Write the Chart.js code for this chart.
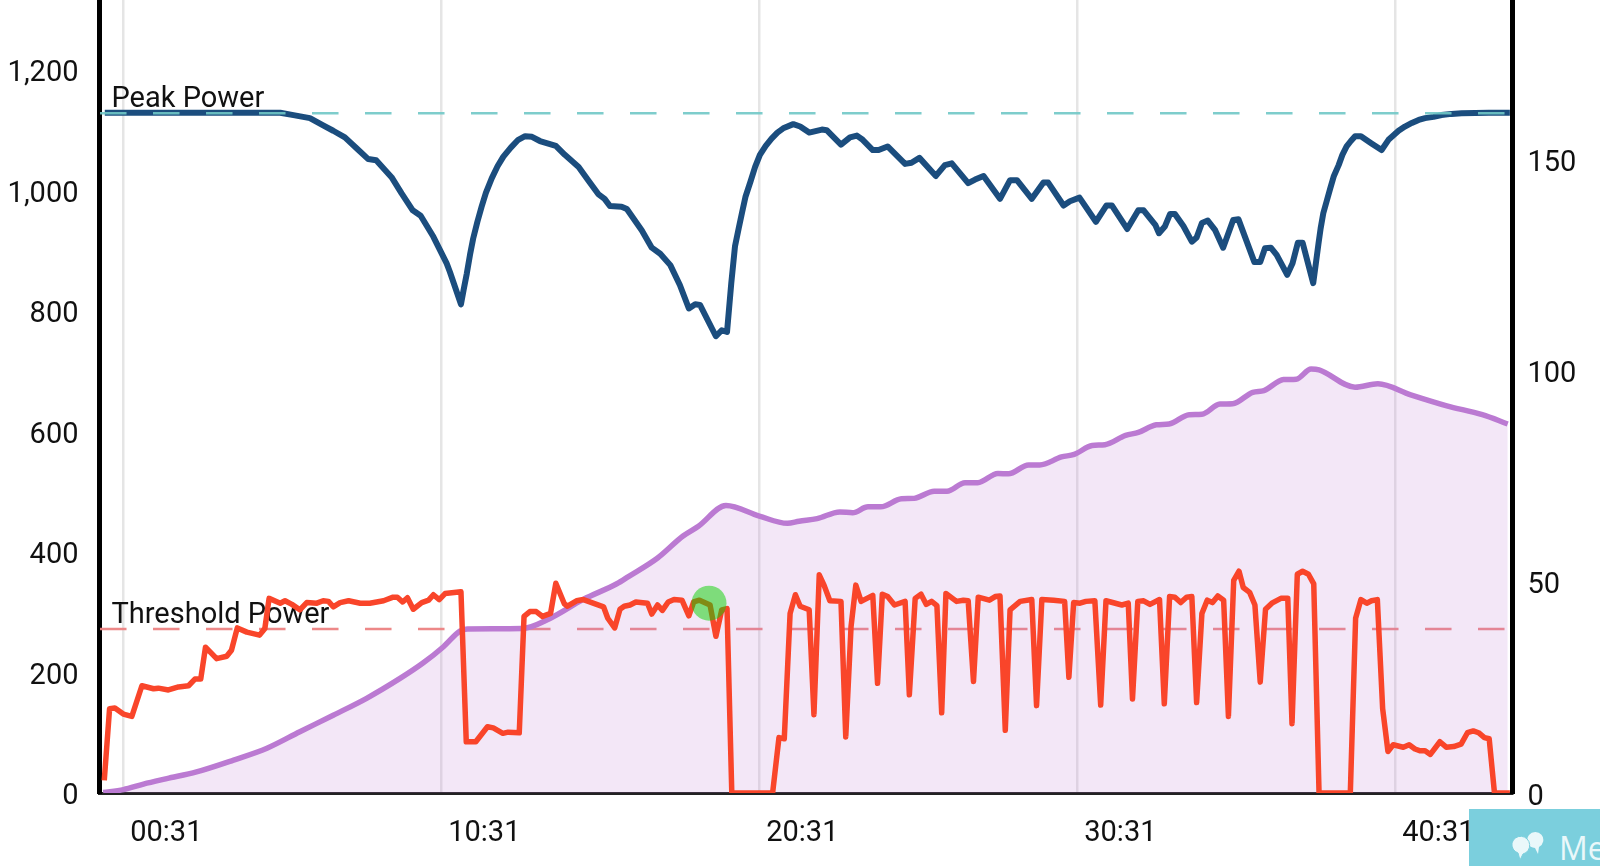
<!DOCTYPE html>
<html>
<head>
<meta charset="utf-8">
<title>Power chart</title>
<script src="https://cdn.jsdelivr.net/npm/chart.js@4"></script>
<style>
    html, body { margin: 0; padding: 0; background: #fff; overflow: hidden; }
    #wrap { position: relative; width: 1600px; height: 866px; }
    #messages {
        position: absolute; left: 1469px; top: 809px; width: 131px; height: 57px;
        background: #7bcfdd; overflow: hidden; color: #eaf8fa;
        font: 32px "Open Sans", sans-serif;
    }
    #messages span { position: absolute; left: 90px; top: 17px; }
    #messages svg { position: absolute; left: 40px; top: 22px; }
</style>
</head>
<body>
<div id="wrap">
    <canvas id="powerChart" width="1600" height="866"></canvas>
    <div id="messages">
        <svg width="36" height="30" viewBox="0 0 36 30">
            <path d="M20 4a8 8 0 1 1 10 12l-1 7-3-6a8 8 0 0 1-6-13z" fill="#eaf8fa"/>
            <path d="M3 12a9 9 0 1 1 11 11l-3 6-2-7a9 9 0 0 1-6-10z" fill="#eaf8fa" stroke="#7bcfdd"/>
        </svg>
        <span>Me</span>
    </div>
</div>
<script>
// tick labels
const leftTicks = [0, 200, 400, 600, 800, 1000, 1200];
const rightTicks = [0, 50, 100, 150];
const timeTicks = [31, 631, 1231, 1831, 2431];
const timeLabels = ["00:31", "10:31", "20:31", "30:31", "40:31"];

// reference lines
const peakPower = 1128;
const thresholdPower = 272;
const lineTimes = [-13, 2652];
const markerTime = [1136];
const markerValue = [315];

// blue curve, seconds and watts
const peakTimes = [-4, 327, 352, 383, 408, 427, 449, 471, 493, 508, 537, 556, 577, 592, 616, 641, 647, 668, 673, 679, 685, 691, 699, 707, 715, 726, 737, 748, 762, 776, 789, 802, 817, 847, 864, 890, 908, 927, 939, 949, 971, 981, 1009, 1028, 1044, 1063, 1081, 1098, 1110, 1119, 1149, 1160, 1170, 1178, 1185, 1192, 1198, 1205, 1214, 1223, 1232, 1243, 1254, 1265, 1276, 1295, 1308, 1325, 1349, 1358, 1385, 1402, 1415, 1426, 1445, 1456, 1473, 1506, 1518, 1533, 1564, 1581, 1594, 1625, 1638, 1654, 1685, 1704, 1717, 1745, 1767, 1776, 1805, 1817, 1835, 1866, 1886, 1896, 1925, 1946, 1956, 1978, 1985, 1996, 2006, 2015, 2031, 2047, 2056, 2066, 2077, 2091, 2106, 2125, 2135, 2165, 2176, 2185, 2196, 2207, 2227, 2237, 2247, 2256, 2276, 2281, 2286, 2290, 2295, 2302, 2308, 2315, 2324, 2331, 2339, 2347, 2355, 2366, 2386, 2405, 2418, 2427, 2437, 2449, 2462, 2475, 2487, 2503, 2518, 2537, 2556, 2607, 2647];
const peakValues = [1129, 1129, 1125, 1120, 1108, 1099, 1088, 1070, 1052, 1050, 1022, 995, 967, 958, 923, 879, 865, 811, 835, 862, 893, 920, 948, 973, 996, 1020, 1040, 1056, 1071, 1084, 1090, 1089, 1082, 1074, 1059, 1039, 1017, 994, 986, 974, 973, 969, 934, 905, 895, 876, 843, 804, 811, 810, 758, 768, 765, 846, 907, 937, 962, 990, 1014, 1039, 1059, 1074, 1086, 1096, 1103, 1110, 1106, 1096, 1101, 1100, 1076, 1088, 1091, 1084, 1067, 1067, 1073, 1044, 1046, 1054, 1024, 1042, 1045, 1012, 1018, 1024, 986, 1017, 1017, 986, 1013, 1013, 975, 982, 988, 948, 975, 975, 936, 967, 967, 943, 929, 940, 961, 961, 941, 915, 922, 946, 950, 934, 905, 951, 952, 881, 881, 904, 905, 893, 860, 879, 913, 913, 846, 879, 912, 937, 962, 984, 1003, 1024, 1042, 1059, 1073, 1082, 1090, 1090, 1078, 1067, 1084, 1091, 1099, 1106, 1112, 1117, 1120, 1122, 1125, 1127, 1128, 1129, 1129];

// red curve, seconds and watts
const powerTimes = [-5, 5, 15, 31, 47, 66, 88, 97, 116, 135, 154, 166, 177, 186, 207, 226, 235, 246, 264, 288, 298, 306, 327, 336, 349, 364, 377, 396, 408, 418, 427, 440, 456, 478, 496, 522, 540, 548, 558, 567, 578, 594, 607, 616, 627, 638, 668, 678, 696, 718, 729, 747, 757, 778, 787, 798, 810, 822, 837, 847, 863, 869, 886, 899, 937, 945, 958, 968, 976, 987, 998, 1020, 1028, 1039, 1048, 1059, 1070, 1085, 1098, 1107, 1118, 1138, 1149, 1160, 1170, 1179, 1256, 1268, 1278, 1289, 1299, 1308, 1325, 1334, 1344, 1353, 1364, 1385, 1394, 1404, 1413, 1423, 1445, 1454, 1463, 1473, 1486, 1506, 1514, 1525, 1536, 1546, 1556, 1566, 1575, 1583, 1603, 1616, 1625, 1635, 1644, 1665, 1676, 1685, 1695, 1704, 1723, 1745, 1754, 1764, 1786, 1807, 1815, 1824, 1836, 1847, 1864, 1875, 1885, 1915, 1927, 1935, 1945, 1956, 1968, 1986, 1995, 2005, 2015, 2026, 2037, 2047, 2056, 2066, 2076, 2086, 2096, 2107, 2116, 2126, 2136, 2144, 2156, 2166, 2176, 2186, 2198, 2215, 2228, 2236, 2246, 2256, 2267, 2277, 2287, 2346, 2356, 2366, 2377, 2386, 2397, 2407, 2417, 2427, 2446, 2457, 2468, 2478, 2487, 2497, 2515, 2527, 2541, 2555, 2567, 2578, 2588, 2599, 2608, 2618, 2647];
const powerValues = [21, 140, 141, 131, 127, 178, 173, 174, 171, 176, 178, 189, 189, 242, 223, 227, 237, 274, 267, 262, 273, 323, 315, 319, 313, 304, 316, 315, 319, 318, 309, 316, 319, 315, 315, 319, 325, 325, 317, 324, 305, 316, 320, 329, 321, 331, 334, 85, 85, 110, 108, 99, 101, 100, 293, 301, 301, 293, 298, 348, 314, 310, 319, 321, 309, 290, 274, 305, 310, 312, 317, 315, 297, 312, 303, 317, 321, 320, 294, 317, 320, 312, 260, 304, 306, 0, 0, 92, 90, 298, 329, 310, 304, 130, 362, 345, 319, 318, 93, 276, 345, 318, 328, 182, 330, 326, 312, 318, 163, 323, 330, 313, 318, 311, 133, 331, 318, 320, 319, 185, 325, 320, 326, 327, 104, 304, 318, 321, 145, 321, 320, 318, 192, 316, 315, 318, 319, 146, 319, 312, 315, 156, 318, 319, 313, 321, 148, 326, 325, 316, 325, 326, 150, 298, 320, 316, 327, 320, 127, 353, 368, 341, 333, 312, 184, 305, 315, 323, 323, 115, 363, 368, 363, 347, 0, 0, 290, 321, 315, 319, 321, 140, 69, 80, 76, 80, 73, 70, 70, 64, 85, 76, 77, 81, 100, 103, 100, 92, 90, 0, 0];

// purple area, read on the right axis
const loadTimes = [-7, 31, 69, 113, 169, 239, 302, 364, 427, 490, 553, 597, 635, 666, 680, 783, 836, 899, 962, 984, 1039, 1087, 1116, 1168, 1231, 1284, 1306, 1340, 1383, 1407, 1436, 1460, 1499, 1523, 1561, 1585, 1619, 1643, 1681, 1701, 1739, 1760, 1801, 1825, 1859, 1883, 1922, 1946, 1980, 2004, 2042, 2066, 2100, 2124, 2162, 2183, 2220, 2244, 2272, 2287, 2355, 2398, 2460, 2528, 2595, 2643];
const loadValues = [0.1, 0.8, 2.1, 3.4, 5.0, 7.8, 10.6, 14.5, 18.4, 22.4, 27.1, 30.8, 34.6, 38.3, 38.8, 38.9, 41.3, 45.8, 49.5, 51.2, 55.6, 60.8, 63.1, 68, 65.5, 63.8, 64.3, 64.9, 66.5, 66.3, 67.7, 67.7, 69.6, 69.7, 71.4, 71.4, 73.4, 73.4, 75.6, 75.5, 77.6, 77.6, 79.5, 80.1, 82.2, 82.4, 84.6, 85.3, 87.1, 87.3, 89.5, 89.6, 92, 92.1, 94.8, 95.2, 97.8, 97.9, 100.3, 100.1, 96, 96.8, 94.2, 91.6, 89.5, 87.3];

function points(times, values) {
    return times.map((t, i) => ({ x: t, y: values[i] }));
}

const tickFont = { family: "Roboto", size: 29 };

// the plot runs to the canvas top, so no room is kept for the tick labels
function fixScale(s, size) {
    s.paddingTop = 0;
    s.paddingBottom = 0;
    s.paddingLeft = 0;
    s.paddingRight = 0;
    if (s.isHorizontal()) s.height = size;
    else s.width = size;
}

// names of the two reference lines, under the curves
const lineLabels = {
    id: "lineLabels",
    beforeDatasetsDraw(chart) {
        const c = chart.ctx;
        const y = chart.scales.y;
        c.save();
        c.font = "29px Roboto";
        c.fillStyle = "#111";
        c.fillText("Peak Power", chart.chartArea.left + 12, y.getPixelForValue(peakPower) - 6);
        c.fillText("Threshold Power", chart.chartArea.left + 12, y.getPixelForValue(thresholdPower) - 6);
        c.restore();
    },
};

new Chart(document.getElementById("powerChart").getContext("2d"), {
    type: "line",
    plugins: [lineLabels],
    data: {
        datasets: [
            {
                label: "Marker",
                data: points(markerTime, markerValue),
                yAxisID: "y",
                showLine: false,
                pointRadius: 17.5,
                pointBorderWidth: 0,
                pointBackgroundColor: "rgba(10, 210, 0, 0.5)",
                order: 0,
            },
            {
                label: "Peak Power",
                data: points(lineTimes, [peakPower, peakPower]),
                yAxisID: "y",
                borderColor: "rgba(112, 200, 198, 0.9)",
                borderWidth: 2.5,
                borderDash: [26.5, 26.5],
                pointRadius: 0,
                order: 1,
            },
            {
                label: "W'",
                data: points(peakTimes, peakValues),
                yAxisID: "y",
                borderColor: "#1b4d7e",
                borderWidth: 6,
                borderJoinStyle: "round",
                pointRadius: 0,
                order: 2,
            },
            {
                label: "Power",
                data: points(powerTimes, powerValues),
                yAxisID: "y",
                borderColor: "#f9452a",
                borderWidth: 5.5,
                borderJoinStyle: "round",
                pointRadius: 0,
                order: 3,
            },
            {
                label: "Training load",
                data: points(loadTimes, loadValues),
                yAxisID: "y2",
                borderColor: "#bb7ad2",
                backgroundColor: "rgba(187, 122, 210, 0.18)",
                borderWidth: 5.5,
                borderJoinStyle: "round",
                cubicInterpolationMode: "monotone",
                fill: "origin",
                pointRadius: 0,
                order: 4,
            },
            {
                label: "Threshold Power",
                data: points(lineTimes, [thresholdPower, thresholdPower]),
                yAxisID: "y",
                borderColor: "rgba(236, 130, 130, 0.95)",
                borderWidth: 2.5,
                borderDash: [26.5, 26.5],
                pointRadius: 0,
                order: 5,
            },
        ],
    },
    options: {
        responsive: false,
        animation: false,
        devicePixelRatio: 1,
        layout: { padding: 0, autoPadding: false },
        plugins: {
            legend: { display: false },
            tooltip: { enabled: false },
        },
        scales: {
            x: {
                type: "linear",
                min: -14,
                max: 2652,
                afterBuildTicks: (s) => { s.ticks = timeTicks.map((v) => ({ value: v })); },
                afterFit: (s) => fixScale(s, 73),
                grid: { color: "rgba(0, 0, 0, 0.1)", lineWidth: 2.5, drawTicks: false },
                border: { color: "#222", width: 3 },
                ticks: {
                    font: tickFont,
                    color: "#111",
                    padding: 23,
                    labelOffset: 43,
                    maxRotation: 0,
                    autoSkip: false,
                    callback: (v) => timeLabels[timeTicks.indexOf(v)],
                },
            },
            y: {
                position: "left",
                min: 0,
                max: 1316,
                afterBuildTicks: (s) => { s.ticks = leftTicks.map((v) => ({ value: v })); },
                afterFit: (s) => fixScale(s, 99.5),
                grid: { display: false },
                border: { color: "#000", width: 5 },
                ticks: {
                    font: tickFont,
                    color: "#111",
                    padding: 13,
                    labelOffset: 4,
                    callback: (v) => v.toLocaleString("en-US"),
                },
            },
            y2: {
                position: "right",
                min: 0,
                max: 187.6,
                afterBuildTicks: (s) => { s.ticks = rightTicks.map((v) => ({ value: v })); },
                afterFit: (s) => fixScale(s, 87.5),
                grid: { display: false },
                border: { color: "#000", width: 5 },
                ticks: {
                    font: tickFont,
                    color: "#111",
                    padding: 7,
                    labelOffset: 4.5,
                },
            },
        },
    },
});
</script>
</body>
</html>
